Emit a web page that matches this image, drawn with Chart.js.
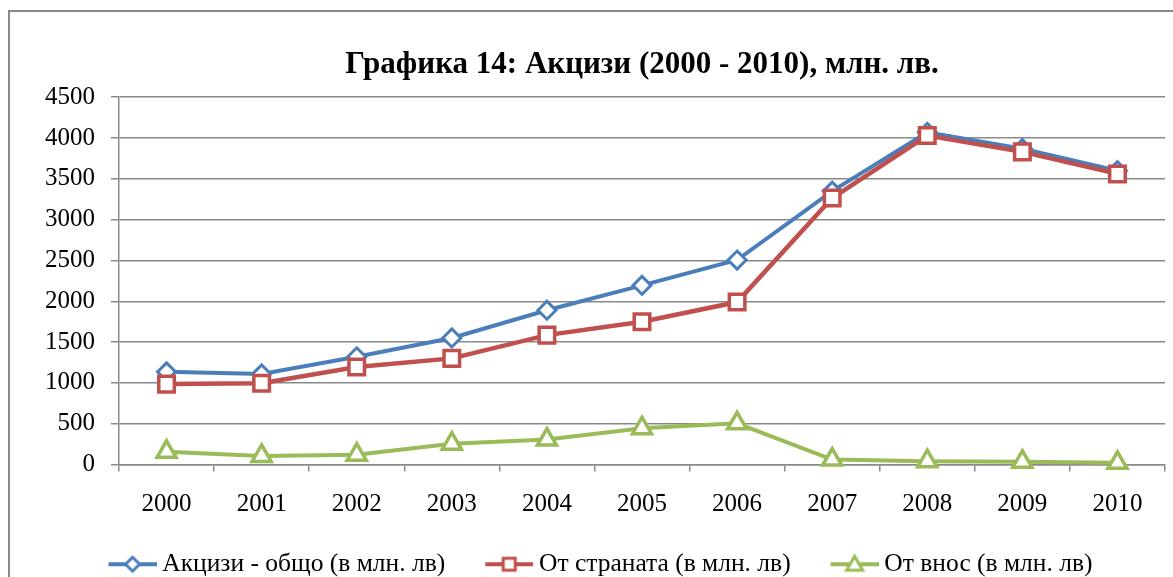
<!DOCTYPE html>
<html>
<head>
<meta charset="utf-8">
<script src="https://cdn.jsdelivr.net/npm/chart.js@4.4.1/dist/chart.umd.min.js"></script>
<style>
  html, body { margin: 0; padding: 0; background: #fff; }
  #wrap { width: 1173px; height: 577px; position: relative; }
</style>
</head>
<body>
<div id="wrap"><canvas id="akciziGrafika" width="1173" height="577"></canvas></div>
<script>
// Данни - Графика 14
const godini = ['2000', '2001', '2002', '2003', '2004', '2005', '2006', '2007', '2008', '2009', '2010'];
const akciziObshto = [1135, 1110, 1320, 1550, 1890, 2195, 2505, 3350, 4070, 3870, 3600];
const otStranata = [985, 995, 1195, 1300, 1585, 1750, 1990, 3265, 4030, 3830, 3560];
const otVnos = [155, 105, 120, 255, 305, 445, 505, 60, 40, 35, 20];
const yMin = 0;
const yMax = 4500;
const yStap = 500;

const siv = '#8a8a8a';
const sin = '#4a7ebb';
const cherven = '#c0504d';
const zelen = '#9bbb59';
const shrift = "'Liberation Serif', 'Times New Roman', serif";

// картинка за легендата: линия + маркер (по-широка от кутията, за да се доближи до текста)
const kutiya = 77;
function legendaMarker(cvyat, vid) {
  const c = document.createElement('canvas');
  c.width = kutiya + 14;
  c.height = 24;
  const ctx = c.getContext('2d');
  const x0 = 43, x1 = c.width, cx = (x0 + x1) / 2, cy = 12;
  ctx.strokeStyle = cvyat;
  ctx.lineWidth = 4;
  ctx.beginPath();
  ctx.moveTo(x0, cy);
  ctx.lineTo(x1, cy);
  ctx.stroke();
  ctx.fillStyle = '#fff';
  ctx.lineWidth = 3;
  ctx.beginPath();
  if (vid === 'diamond') {
    ctx.moveTo(cx, cy - 7); ctx.lineTo(cx + 7, cy); ctx.lineTo(cx, cy + 7); ctx.lineTo(cx - 7, cy);
  } else if (vid === 'square') {
    ctx.rect(cx - 6, cy - 6, 12, 12);
  } else {
    ctx.moveTo(cx, cy - 8); ctx.lineTo(cx + 8, cy + 6); ctx.lineTo(cx - 8, cy + 6);
  }
  ctx.closePath();
  ctx.fill();
  ctx.stroke();
  return c;
}

// рамка около графиката
const ramka = {
  id: 'ramka',
  beforeDraw(chart) {
    const ctx = chart.ctx;
    ctx.save();
    ctx.strokeStyle = siv;
    ctx.lineWidth = 2;
    ctx.strokeRect(9, 11, 1300, 700);
    ctx.restore();
  }
};

const markeri = [legendaMarker(sin, 'diamond'), legendaMarker(cherven, 'square'), legendaMarker(zelen, 'triangle')];

let akciziGrafika = document.getElementById('akciziGrafika');
const config = {
  type: 'line',
  data: {
    labels: godini,
    datasets: [{
      label: 'Акцизи - общо (в млн. лв)',
      data: akciziObshto,
      borderColor: sin,
      borderWidth: 4,
      pointStyle: 'rectRot',
      pointRadius: 9,
      pointBorderWidth: 3,
      pointBackgroundColor: '#fff',
      pointBorderColor: sin,
      tension: 0,
      clip: false,
      order: 3
    }, {
      label: 'От страната (в млн. лв)',
      data: otStranata,
      borderColor: cherven,
      borderWidth: 4.5,
      pointStyle: 'rect',
      pointRadius: 11,
      pointBorderWidth: 3.5,
      pointBackgroundColor: '#fff',
      pointBorderColor: cherven,
      tension: 0,
      clip: false,
      order: 2
    }, {
      label: 'От внос (в млн. лв)',
      data: otVnos,
      borderColor: zelen,
      borderWidth: 4,
      pointStyle: 'triangle',
      pointRadius: 11,
      pointBorderWidth: 3.5,
      pointBackgroundColor: '#fff',
      pointBorderColor: zelen,
      tension: 0,
      clip: false,
      order: 1
    }]
  },
  options: {
    responsive: false,
    animation: false,
    devicePixelRatio: 1,
    layout: { autoPadding: false, padding: { top: 11, right: 8, bottom: -10, left: 0 } },
    plugins: {
      title: {
        display: true,
        fullSize: false,
        text: 'Графика 14: Акцизи (2000 - 2010), млн. лв.',
        color: '#000',
        font: { family: shrift, size: 31, weight: 'bold' },
        padding: { top: 35, bottom: 14 }
      },
      legend: {
        position: 'bottom',
        labels: {
          usePointStyle: true,
          pointStyleWidth: kutiya,
          color: '#000',
          font: { family: shrift, size: 25.5, lineHeight: 1 },
          padding: 4,
          generateLabels(chart) {
            return chart.data.datasets.map((ds, i) => ({
              text: ds.label,
              pointStyle: markeri[i],
              fillStyle: ds.borderColor,
              strokeStyle: ds.borderColor,
              lineWidth: 0,
              datasetIndex: i,
              hidden: false
            }));
          }
        }
      },
      tooltip: { enabled: false }
    },
    scales: {
      x: {
        offset: true,
        afterFit(scale) { scale.height = 83; },
        grid: { drawOnChartArea: false, color: siv, lineWidth: 1.5, tickLength: 7, offset: true },
        border: { color: siv, width: 1.5 },
        ticks: { color: '#000', font: { family: shrift, size: 25, lineHeight: 2.64 }, padding: 0, maxRotation: 0 }
      },
      y: {
        min: yMin,
        max: yMax,
        afterFit(scale) { scale.width = 119; },
        grid: { color: siv, lineWidth: 1.5, tickLength: 8 },
        border: { color: siv, width: 1.5 },
        ticks: { stepSize: yStap, color: '#000', font: { family: shrift, size: 25 }, padding: 16, callback: (v) => v }
      }
    }
  },
  plugins: [ramka]
};

let myGrafika = new Chart(akciziGrafika, config);
</script>
</body>
</html>
